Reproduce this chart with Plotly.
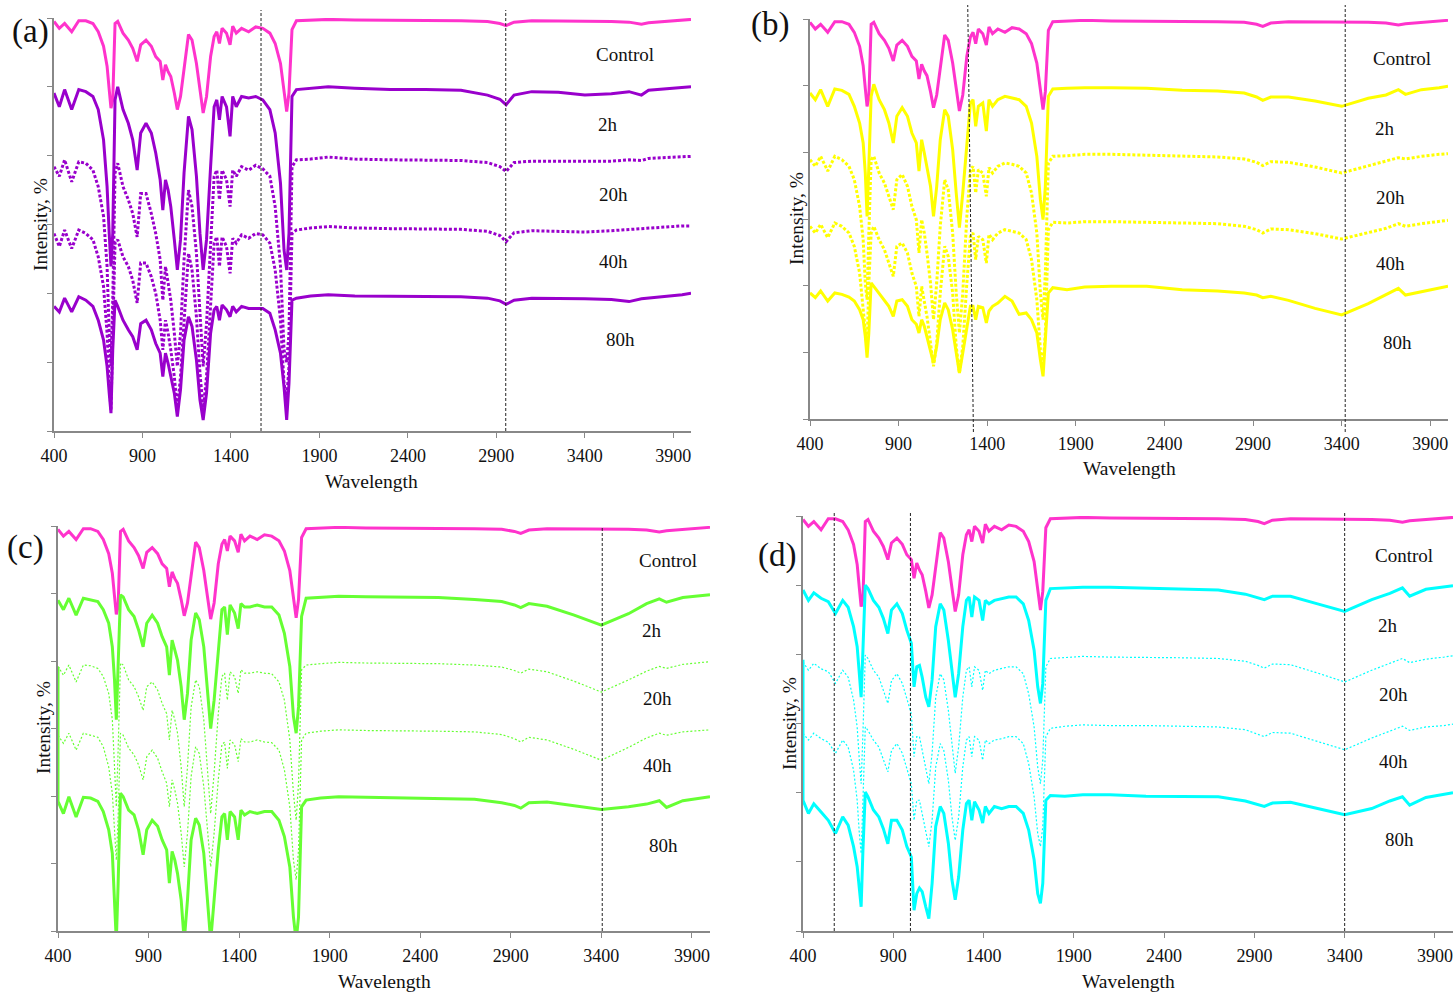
import plotly.graph_objects as go

# ---------------- data (wavenumber grid shared by every spectrum) ----------------
WAVENUMBER = [400, 430, 460, 500, 540, 580, 620, 650, 680, 700,
              712, 722, 732, 745, 760, 790, 820, 845, 870, 890,
              920, 950, 975, 1000, 1015, 1030, 1045, 1060, 1080, 1097,
              1115, 1135, 1160, 1180, 1205, 1225, 1243, 1262, 1285, 1305,
              1320, 1335, 1350, 1375, 1395, 1410, 1430, 1460, 1500, 1540,
              1580, 1620, 1650, 1680, 1700, 1715, 1728, 1745, 1770,
              1850, 1950, 2100, 2300, 2500, 2700, 2850, 2920, 2955, 3000,
              3100, 3250, 3400, 3550, 3650, 3720, 3760, 3850, 3950, 4000]

CONTROL = [5.95, 5.85, 5.92, 5.80, 5.96, 5.96, 5.92, 5.80, 5.59, 5.30,
           4.96, 4.69, 4.81, 5.92, 5.95, 5.78, 5.68, 5.56, 5.37, 5.61,
           5.68, 5.59, 5.44, 5.37, 5.10, 5.32, 5.22, 5.15, 4.91, 4.67,
           4.86, 5.30, 5.76, 5.68, 5.34, 4.96, 4.62, 4.86, 5.44, 5.73,
           5.80, 5.63, 5.85, 5.78, 5.61, 5.88, 5.78, 5.85, 5.80, 5.87,
           5.85, 5.78, 5.63, 5.34, 4.91, 4.64, 4.91, 5.83, 5.96,
           5.97, 5.98, 5.97, 5.97, 5.96, 5.96, 5.95, 5.92, 5.89, 5.94,
           5.96, 5.96, 5.96, 5.95, 5.94, 5.91, 5.93, 5.95, 5.97, 5.98]

# panel (a)
A_2H = [4.91, 4.71, 4.96, 4.67, 4.96, 4.93, 4.86, 4.67, 4.23, 3.55,
        2.87, 2.39, 2.87, 4.81, 5.00, 4.67, 4.47, 4.23, 3.79, 4.33,
        4.47, 4.33, 4.04, 3.65, 3.21, 3.65, 3.50, 3.26, 2.78, 2.34,
        2.78, 3.75, 4.57, 4.38, 3.70, 2.87, 2.34, 2.78, 3.84, 4.71,
        4.81, 4.52, 4.86, 4.71, 4.28, 4.86, 4.71, 4.86, 4.84, 4.86,
        4.81, 4.67, 4.33, 3.60, 2.63, 2.34, 2.87, 4.86, 4.96,
        4.98, 5.00, 4.98, 4.96, 4.96, 4.95, 4.88, 4.82, 4.74, 4.88,
        4.93, 4.92, 4.88, 4.90, 4.93, 4.88, 4.95, 4.97, 4.99, 5.00]
A_20H = [3.84, 3.70, 3.94, 3.62, 3.91, 3.89, 3.79, 3.55, 3.12, 2.39,
         1.42, 0.94, 1.90, 3.75, 3.89, 3.55, 3.36, 3.16, 2.82, 3.45,
         3.45, 3.16, 2.87, 2.49, 1.90, 2.39, 2.15, 1.90, 1.42, 0.94,
         1.42, 2.49, 3.50, 3.26, 2.58, 1.66, 0.94, 1.56, 2.78, 3.70,
         3.79, 3.36, 3.79, 3.65, 3.26, 3.79, 3.70, 3.84, 3.79, 3.86,
         3.81, 3.70, 3.26, 2.39, 1.18, 1.00, 1.42, 3.84, 3.94,
         3.95, 3.98, 3.95, 3.94, 3.93, 3.93, 3.90, 3.84, 3.77, 3.90,
         3.92, 3.92, 3.91, 3.92, 3.94, 3.93, 3.96, 3.97, 3.99, 3.99]
A_40H = [2.87, 2.68, 2.92, 2.65, 2.92, 2.87, 2.78, 2.53, 2.10, 1.42,
         0.69, 0.31, 1.42, 2.73, 2.78, 2.53, 2.39, 2.19, 1.86, 2.44,
         2.44, 2.24, 2.00, 1.61, 1.18, 1.61, 1.42, 1.18, 0.79, 0.31,
         0.79, 1.66, 2.58, 2.34, 1.66, 0.84, 0.31, 0.79, 1.81, 2.73,
         2.82, 2.39, 2.82, 2.68, 2.29, 2.80, 2.73, 2.85, 2.80, 2.87,
         2.85, 2.73, 2.34, 1.61, 0.69, 0.45, 0.94, 2.87, 2.92,
         2.95, 2.97, 2.95, 2.94, 2.93, 2.93, 2.90, 2.84, 2.75, 2.88,
         2.91, 2.90, 2.89, 2.91, 2.93, 2.94, 2.95, 2.97, 2.98, 2.98]
A_80H = [1.81, 1.73, 1.93, 1.73, 1.95, 1.90, 1.81, 1.61, 1.32, 0.94,
         0.55, 0.26, 1.18, 1.90, 1.81, 1.61, 1.47, 1.37, 1.18, 1.56,
         1.61, 1.47, 1.27, 1.13, 0.79, 1.13, 0.98, 0.79, 0.55, 0.21,
         0.60, 1.32, 1.66, 1.52, 1.03, 0.45, 0.16, 0.55, 1.42, 1.76,
         1.81, 1.61, 1.83, 1.76, 1.66, 1.81, 1.73, 1.81, 1.78, 1.78,
         1.78, 1.71, 1.47, 1.13, 0.64, 0.16, 0.69, 1.90, 1.93,
         1.96, 1.98, 1.96, 1.96, 1.95, 1.95, 1.93, 1.89, 1.84, 1.90,
         1.93, 1.93, 1.92, 1.91, 1.88, 1.92, 1.93, 1.95, 1.98, 2.00]

# panel (b)
B_2H = [4.89, 4.79, 4.94, 4.69, 4.95, 4.93, 4.87, 4.69, 4.44, 4.14,
        3.69, 3.04, 3.79, 4.84, 5.02, 4.79, 4.64, 4.44, 4.14, 4.54,
        4.67, 4.54, 4.29, 4.14, 3.72, 4.19, 3.99, 3.79, 3.49, 3.04,
        3.49, 4.19, 4.64, 4.54, 4.04, 3.39, 2.87, 3.39, 4.19, 4.74,
        4.79, 4.39, 4.69, 4.74, 4.32, 4.79, 4.69, 4.79, 4.84, 4.82,
        4.79, 4.69, 4.44, 3.94, 3.29, 2.99, 3.49, 4.84, 4.95,
        4.96, 4.97, 4.97, 4.96, 4.93, 4.92, 4.89, 4.83, 4.78, 4.83,
        4.83, 4.77, 4.69, 4.81, 4.86, 4.94, 4.87, 4.94, 4.97, 4.99]
B_20H = [3.89, 3.79, 3.94, 3.72, 3.94, 3.89, 3.79, 3.59, 3.19, 2.69,
         2.04, 1.79, 2.79, 3.89, 3.94, 3.69, 3.54, 3.34, 3.14, 3.59,
         3.67, 3.49, 3.19, 2.99, 2.49, 2.99, 2.79, 2.49, 2.04, 1.49,
         2.04, 2.89, 3.59, 3.44, 2.79, 1.89, 1.29, 1.89, 3.04, 3.74,
         3.79, 3.39, 3.74, 3.69, 3.34, 3.77, 3.69, 3.79, 3.84, 3.82,
         3.79, 3.69, 3.39, 2.79, 1.89, 1.49, 2.19, 3.84, 3.94,
         3.95, 3.97, 3.97, 3.96, 3.94, 3.93, 3.90, 3.85, 3.80, 3.86,
         3.85, 3.78, 3.69, 3.80, 3.87, 3.92, 3.90, 3.94, 3.97, 3.98]
B_40H = [2.89, 2.79, 2.92, 2.72, 2.94, 2.89, 2.79, 2.59, 2.19, 1.69,
         1.29, 1.05, 2.04, 2.79, 2.89, 2.69, 2.54, 2.34, 2.14, 2.59,
         2.64, 2.49, 2.19, 1.99, 1.54, 1.99, 1.79, 1.54, 1.14, 0.79,
         1.14, 1.89, 2.59, 2.44, 1.89, 1.09, 0.69, 1.09, 2.04, 2.74,
         2.79, 2.39, 2.74, 2.69, 2.34, 2.77, 2.69, 2.79, 2.84, 2.82,
         2.79, 2.69, 2.39, 1.79, 1.04, 0.79, 1.29, 2.84, 2.95,
         2.94, 2.96, 2.96, 2.95, 2.94, 2.93, 2.89, 2.84, 2.79, 2.85,
         2.84, 2.78, 2.70, 2.80, 2.86, 2.93, 2.89, 2.93, 2.96, 2.98]
B_80H = [1.89, 1.82, 1.92, 1.77, 1.89, 1.87, 1.83, 1.77, 1.64, 1.49,
         1.24, 0.92, 1.29, 2.04, 1.99, 1.89, 1.79, 1.69, 1.54, 1.77,
         1.79, 1.69, 1.49, 1.42, 1.29, 1.49, 1.39, 1.24, 1.04, 0.84,
         1.09, 1.49, 1.74, 1.64, 1.34, 0.99, 0.69, 0.99, 1.39, 1.69,
         1.69, 1.49, 1.69, 1.67, 1.44, 1.62, 1.69, 1.74, 1.84, 1.77,
         1.57, 1.59, 1.49, 1.29, 0.89, 0.64, 1.19, 1.89, 1.97,
         1.94, 1.98, 1.99, 1.99, 1.94, 1.92, 1.89, 1.86, 1.82, 1.84,
         1.78, 1.66, 1.56, 1.73, 1.86, 1.96, 1.86, 1.91, 1.96, 1.99]

# panel (c)
C_2H = [4.90, 4.76, 4.93, 4.68, 4.93, 4.91, 4.88, 4.76, 4.56, 4.21,
        3.72, 3.13, 3.82, 4.98, 4.95, 4.76, 4.66, 4.46, 4.21, 4.56,
        4.68, 4.56, 4.36, 4.21, 3.79, 4.31, 4.16, 4.01, 3.62, 3.13,
        3.52, 4.31, 4.71, 4.61, 4.21, 3.62, 3.00, 3.42, 4.16, 4.76,
        4.80, 4.39, 4.83, 4.71, 4.48, 4.85, 4.80, 4.80, 4.83, 4.80,
        4.80, 4.68, 4.41, 3.92, 3.18, 2.93, 3.32, 4.66, 4.93,
        4.94, 4.96, 4.95, 4.94, 4.94, 4.91, 4.88, 4.83, 4.79, 4.85,
        4.81, 4.68, 4.53, 4.70, 4.85, 4.92, 4.87, 4.94, 4.96, 4.98]
C_20H = [3.92, 3.79, 3.94, 3.69, 3.94, 3.93, 3.89, 3.77, 3.52, 3.13,
         2.43, 1.84, 2.68, 3.97, 3.94, 3.72, 3.62, 3.47, 3.27, 3.62,
         3.69, 3.57, 3.37, 3.22, 2.83, 3.27, 3.13, 2.93, 2.43, 1.84,
         2.43, 3.32, 3.72, 3.62, 3.13, 2.34, 1.74, 2.34, 3.22, 3.77,
         3.82, 3.42, 3.84, 3.77, 3.52, 3.87, 3.82, 3.82, 3.84, 3.82,
         3.81, 3.69, 3.42, 2.83, 2.04, 1.64, 2.19, 3.87, 3.94,
         3.96, 3.98, 3.97, 3.97, 3.96, 3.94, 3.91, 3.86, 3.82, 3.88,
         3.84, 3.70, 3.54, 3.72, 3.85, 3.92, 3.89, 3.95, 3.97, 3.99]
C_40H = [2.90, 2.78, 2.93, 2.68, 2.93, 2.90, 2.87, 2.73, 2.43, 2.04,
         1.45, 1.05, 1.69, 2.93, 2.90, 2.71, 2.61, 2.46, 2.24, 2.58,
         2.68, 2.56, 2.36, 2.19, 1.84, 2.24, 2.09, 1.89, 1.45, 0.95,
         1.45, 2.29, 2.73, 2.63, 2.14, 1.45, 0.95, 1.45, 2.24, 2.76,
         2.80, 2.41, 2.83, 2.76, 2.51, 2.85, 2.80, 2.80, 2.83, 2.80,
         2.79, 2.68, 2.39, 1.84, 1.05, 0.76, 1.20, 2.83, 2.93,
         2.96, 2.98, 2.97, 2.97, 2.96, 2.95, 2.91, 2.85, 2.80, 2.87,
         2.83, 2.69, 2.53, 2.72, 2.86, 2.93, 2.90, 2.95, 2.97, 2.98]
C_80H = [1.92, 1.74, 1.99, 1.69, 1.98, 1.97, 1.92, 1.77, 1.50, 1.15,
         0.56, -0.15, 0.70, 2.04, 1.99, 1.79, 1.72, 1.50, 1.13, 1.50,
         1.64, 1.55, 1.35, 1.20, 0.71, 1.18, 1.05, 0.85, 0.46, -0.15,
         0.46, 1.35, 1.67, 1.57, 1.15, 0.51, -0.15, 0.46, 1.20, 1.69,
         1.74, 1.35, 1.77, 1.69, 1.35, 1.79, 1.72, 1.77, 1.74, 1.77,
         1.77, 1.64, 1.40, 0.95, 0.21, -0.15, 0.21, 1.84, 1.94,
         1.97, 1.99, 1.98, 1.97, 1.96, 1.95, 1.90, 1.86, 1.82, 1.90,
         1.91, 1.86, 1.80, 1.84, 1.88, 1.93, 1.83, 1.93, 1.97, 1.99]

# panel (d)
D_2H = [4.93, 4.78, 4.89, 4.81, 4.76, 4.59, 4.78, 4.68, 4.40, 4.11,
        3.72, 3.38, 4.06, 5.00, 4.95, 4.78, 4.68, 4.52, 4.30, 4.64,
        4.73, 4.59, 4.35, 4.16, 3.53, 3.82, 3.84, 3.67, 3.38, 3.24,
        3.63, 4.40, 4.73, 4.64, 4.20, 3.72, 3.38, 3.72, 4.40, 4.78,
        4.83, 4.54, 4.83, 4.78, 4.49, 4.78, 4.73, 4.78, 4.81, 4.83,
        4.83, 4.73, 4.49, 4.06, 3.53, 3.29, 3.58, 4.78, 4.95,
        4.96, 4.97, 4.97, 4.96, 4.95, 4.93, 4.87, 4.82, 4.79, 4.84,
        4.84, 4.73, 4.62, 4.79, 4.88, 4.96, 4.84, 4.94, 4.97, 4.99]
D_20H = [3.89, 3.77, 3.87, 3.79, 3.75, 3.58, 3.77, 3.67, 3.34, 2.95,
         2.47, 2.13, 2.86, 3.99, 3.94, 3.77, 3.67, 3.48, 3.29, 3.62,
         3.72, 3.58, 3.34, 3.14, 2.52, 2.81, 2.81, 2.61, 2.33, 2.13,
         2.57, 3.38, 3.72, 3.63, 3.19, 2.66, 2.28, 2.66, 3.38, 3.77,
         3.82, 3.53, 3.82, 3.77, 3.48, 3.77, 3.72, 3.77, 3.79, 3.82,
         3.82, 3.72, 3.43, 2.95, 2.37, 2.13, 2.47, 3.82, 3.94,
         3.95, 3.97, 3.96, 3.96, 3.95, 3.94, 3.90, 3.84, 3.80, 3.86,
         3.85, 3.73, 3.60, 3.77, 3.87, 3.94, 3.88, 3.93, 3.96, 3.98]
D_40H = [2.86, 2.76, 2.86, 2.78, 2.73, 2.57, 2.76, 2.66, 2.33, 1.89,
         1.41, 1.12, 1.89, 2.95, 2.90, 2.76, 2.66, 2.47, 2.30, 2.61,
         2.71, 2.57, 2.33, 2.13, 1.60, 1.89, 1.89, 1.70, 1.41, 1.22,
         1.60, 2.37, 2.71, 2.61, 2.18, 1.65, 1.31, 1.65, 2.37, 2.76,
         2.81, 2.52, 2.81, 2.76, 2.47, 2.76, 2.71, 2.76, 2.78, 2.81,
         2.81, 2.71, 2.42, 1.94, 1.41, 1.22, 1.51, 2.81, 2.93,
         2.96, 2.98, 2.97, 2.97, 2.96, 2.95, 2.91, 2.85, 2.81, 2.87,
         2.86, 2.74, 2.62, 2.79, 2.89, 2.96, 2.90, 2.95, 2.97, 2.99]
D_80H = [1.89, 1.70, 1.84, 1.72, 1.60, 1.41, 1.65, 1.53, 1.22, 0.93,
         0.59, 0.35, 1.17, 2.01, 1.94, 1.75, 1.65, 1.48, 1.26, 1.60,
         1.60, 1.46, 1.22, 1.07, 0.30, 0.54, 0.62, 0.57, 0.35, 0.18,
         0.69, 1.51, 1.80, 1.70, 1.27, 0.74, 0.45, 0.78, 1.46, 1.84,
         1.89, 1.60, 1.87, 1.75, 1.56, 1.80, 1.70, 1.80, 1.77, 1.80,
         1.80, 1.70, 1.46, 1.03, 0.54, 0.40, 0.69, 1.89, 1.96,
         1.95, 1.97, 1.97, 1.95, 1.95, 1.94, 1.88, 1.83, 1.80, 1.85,
         1.86, 1.77, 1.68, 1.77, 1.88, 1.94, 1.82, 1.93, 1.97, 2.00]

# in panels (c) and (d) the 80h series begins with an extra point at 400 cm-1
LEAD_IN_80H = {"c": 3.91, "d": 3.92}

SERIES_NAMES = ["Control", "2h", "20h", "40h", "80h"]
X_TICKS = [400, 900, 1400, 1900, 2400, 2900, 3400, 3900]
Y_TICKS = [0, 1, 2, 3, 4, 5, 6]
MARKER_LINES = {"a": [1570, 2953], "b": [3420], "c": [3405], "d": [573, 995, 3400]}
SLANTED_LINE_B = (1290, 1322)   # top, bottom wavenumber of the tilted guide in (b)

PANELS = {
    "a": [A_2H, A_20H, A_40H, A_80H],
    "b": [B_2H, B_20H, B_40H, B_80H],
    "c": [C_2H, C_20H, C_40H, C_80H],
    "d": [D_2H, D_20H, D_40H, D_80H],
}
PINK = "#FF33CC"
PANEL_COLOR = {"a": "#9900CC", "b": "#FFFF00", "c": "#66FF33", "d": "#00FFFF"}

# ---------------- layout (pixel geometry) ----------------
W, H = 1455, 992
FONT = "Liberation Serif"
TEXT = "#111111"
BOX = {  # x0, x1, ytop, ybottom in pixels
    "a": (54, 691, 18, 431),
    "b": (810, 1448, 19, 419),
    "c": (58, 710, 526, 931),
    "d": (803, 1453, 516, 931),
}


def px(x):
    return x / W


def py(y):
    return 1 - y / H


fig = go.Figure()
axis_ids = {"a": "", "b": "2", "c": "3", "d": "4"}

for key, series in PANELS.items():
    aid = axis_ids[key]
    xa, ya = "x" + aid, "y" + aid
    color = PANEL_COLOR[key]
    thin = key in ("c", "d")
    fig.add_trace(go.Scatter(x=WAVENUMBER, y=CONTROL, mode="lines", xaxis=xa, yaxis=ya,
                             line=dict(color=PINK, width=3), name="Control",
                             showlegend=False, hoverinfo="skip"))
    for name, vals in zip(SERIES_NAMES[1:], series):
        xs, ys = WAVENUMBER, vals
        if name in ("20h", "40h"):
            line = dict(color=color, width=1.2, dash="2px,2px") if thin else \
                dict(color=color, width=3, dash="3px,2px")
        else:
            line = dict(color=color, width=3)
            if name == "80h" and key in LEAD_IN_80H:
                xs = [WAVENUMBER[0]] + WAVENUMBER
                ys = [LEAD_IN_80H[key]] + vals
        fig.add_trace(go.Scatter(x=xs, y=ys, mode="lines", xaxis=xa, yaxis=ya,
                                 line=line, name=name, showlegend=False, hoverinfo="skip"))

layout = dict(
    width=W, height=H, autosize=False,
    margin=dict(l=0, r=0, t=0, b=0, pad=0, autoexpand=False),
    paper_bgcolor="white", plot_bgcolor="white",
    font=dict(family=FONT, size=18, color=TEXT),
)

for key, (x0, x1, yt, yb) in BOX.items():
    aid = axis_ids[key]
    layout["xaxis" + aid] = dict(
        domain=[px(x0), px(x1)], range=[400, 4000], anchor="y" + aid,
        tickvals=X_TICKS, ticks="outside", ticklen=5, tickcolor="#888888",
        showline=True, linecolor="#888888", linewidth=1.5, showgrid=False,
        zeroline=False, automargin=False,
        tickfont=dict(family=FONT, size=18, color=TEXT),
        ticklabelstandoff=3,
    )
    layout["yaxis" + aid] = dict(
        domain=[py(yb), py(yt)], range=[0, 6], anchor="x" + aid,
        tickvals=Y_TICKS, showticklabels=False, ticks="outside", ticklen=5,
        tickcolor="#888888", showline=True, linecolor="#888888", linewidth=1.5,
        showgrid=False, zeroline=False, automargin=False,
    )

fig.update_layout(**layout)

# ---------------- guide lines ----------------
guide_y = {"a": (431, 10), "b": (432, 5), "c": (931, 527), "d": (931, 513)}
dash_line = dict(color="#222222", width=1, dash="3px,2px")
shapes = []
for key, lines in MARKER_LINES.items():
    aid = axis_ids[key]
    yb, yt = guide_y[key]
    for wn in lines:
        shapes.append(dict(type="line", xref="x" + aid, yref="paper", x0=wn, x1=wn,
                           y0=py(yb), y1=py(yt), line=dash_line))
shapes.append(dict(type="line", xref="x2", yref="paper",
                   x0=SLANTED_LINE_B[1], x1=SLANTED_LINE_B[0],
                   y0=py(guide_y["b"][0]), y1=py(guide_y["b"][1]), line=dash_line))
fig.update_layout(shapes=shapes)

# ---------------- annotations ----------------
ann = []


def label(text, x, y, size, angle=0):
    ann.append(dict(text=text, x=px(x), y=py(y), xref="paper", yref="paper",
                    xanchor="center", yanchor="middle", showarrow=False,
                    textangle=angle, font=dict(family=FONT, size=size, color=TEXT)))


series_label_pos = {
    "a": [(625, 55), (608, 125), (613, 195), (613, 261), (620, 339)],
    "b": [(1402, 59), (1385, 129), (1390, 197), (1390, 263), (1397, 343)],
    "c": [(668, 560), (652, 630), (657, 698), (657, 765), (663, 845)],
    "d": [(1404, 555), (1388, 625), (1393, 694), (1393, 761), (1399, 839)],
}
for key, poss in series_label_pos.items():
    for name, (x, y) in zip(SERIES_NAMES, poss):
        label(name, x, y, 19)

xtitle_pos = {"a": (372, 481), "b": (1129, 468), "c": (384, 981), "d": (1128, 981)}
ytitle_pos = {"a": (40, 225), "b": (797, 219), "c": (43, 728), "d": (789, 723)}
panel_pos = {"a": (30, 31), "b": (770, 25), "c": (25, 547), "d": (777, 555)}
for key in BOX:
    label("Wavelength", *xtitle_pos[key], 19.5)
    label("Intensity, %", *ytitle_pos[key], 19.5, angle=-90)
    label("(" + key + ")", *panel_pos[key], 33)
fig.update_layout(annotations=ann)

fig.write_html(
    "out.html",
    config={"displayModeBar": False},
    post_script="document.body.style.margin='0';document.body.style.overflow='hidden';",
)
